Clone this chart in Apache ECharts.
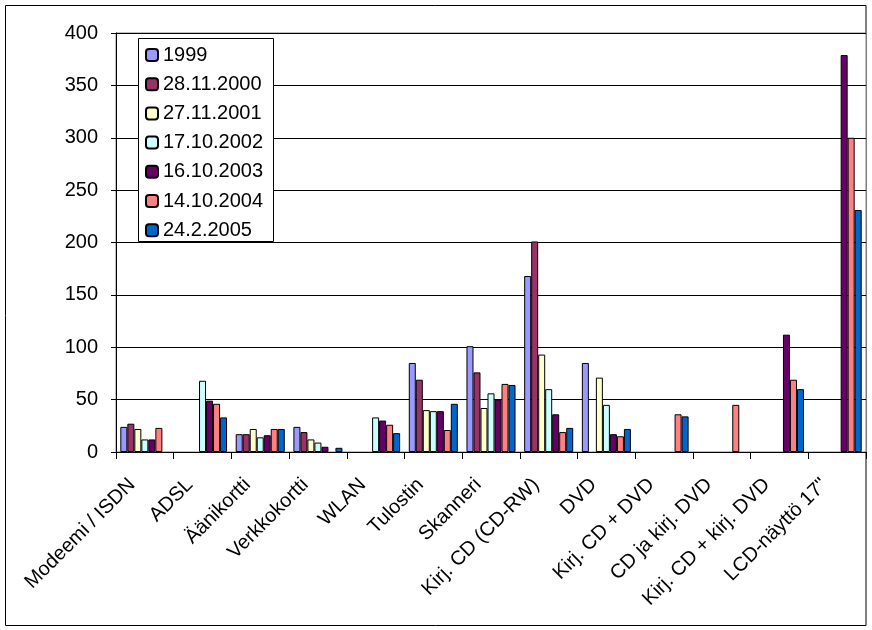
<!DOCTYPE html>
<html>
<head>
<meta charset="utf-8">
<script src="https://cdn.jsdelivr.net/npm/echarts@6/dist/echarts.min.js"></script>
<style>html,body{margin:0;padding:0;background:#fff}#c{width:872px;height:630px}</style>
</head>
<body>
<div id="c"></div>
<script>
var categories = ['Modeemi / ISDN','ADSL','Äänikortti','Verkkokortti','WLAN','Tulostin','Skanneri','Kirj. CD (CD-RW)','DVD','Kirj. CD + DVD','CD ja kirj. DVD','Kirj. CD + kirj. DVD','LCD-näyttö 17"'];
var seriesNames = ['1999','28.11.2000','27.11.2001','17.10.2002','16.10.2003','14.10.2004','24.2.2005'];
var seriesColors = ['#9999FF','#993366','#FFFFCC','#CCFFFF','#660066','#FF8080','#0066CC'];
var v1999 = [24, null, 17, 24, null, 85, 101, 168, 85, null, null, null, null];
var v2000 = [27, null, 17, 19, null, 69, 76, 201, null, null, null, null, null];
var v2001 = [22, null, 22, 12, null, 40, 42, 93, 71, null, null, null, null];
var v2002 = [12, 68, 14, 9, 33, 39, 56, 60, 45, null, null, null, null];
var v2003 = [12, 49, 16, 5, 30, 39, 50, 36, 17, null, null, 112, 379];
var v2004 = [23, 46, 22, null, 26, 21, 65, 19, 15, 36, 45, 69, 300];
var v2005 = [null, 33, 22, 4, 18, 46, 64, 23, 22, 34, null, 60, 231];
var yTicks = [0, 50, 100, 150, 200, 250, 300, 350, 400];

var allValues = [v1999, v2000, v2001, v2002, v2003, v2004, v2005];
var FONT = '"Liberation Sans", Arial, sans-serif';

var series = seriesNames.map(function (n, i) {
  return {
    name: n,
    type: 'bar',
    data: allValues[i],
    barGap: '0%',
    barCategoryGap: '15%',
    itemStyle: { color: seriesColors[i], borderColor: '#000', borderWidth: 1 },
    emphasis: { disabled: true }
  };
});

var chart = echarts.init(document.getElementById('c'), null, { renderer: 'canvas' });
chart.setOption({
  animation: false,
  backgroundColor: '#fff',
  textStyle: { fontFamily: FONT },
  grid: { left: 116, right: 6, top: 33, bottom: 178, show: true, backgroundColor: '#fff', borderColor: '#808080', borderWidth: 1, containLabel: false },
  graphic: [
    { type: 'rect', z: -10, shape: { x: 5.5, y: 5.5, width: 860.5, height: 620 }, style: { fill: null, stroke: '#000', lineWidth: 1 } },
    { type: 'rect', z: 50, shape: { x: 138.5, y: 38.5, width: 135, height: 203 }, style: { fill: '#fff', stroke: '#000', lineWidth: 1 } }
  ],
  legend: {
    z: 60,
    orient: 'vertical',
    left: 145,
    top: 45,
    padding: 0,
    itemWidth: 12,
    itemHeight: 12,
    itemGap: 9.2,
    data: seriesNames,
    textStyle: { fontFamily: FONT, fontSize: 20, lineHeight: 20, color: '#000' }
  },
  xAxis: {
    type: 'category',
    data: categories,
    axisLine: { lineStyle: { color: '#000', width: 1 } },
    axisTick: { show: true, length: 7, lineStyle: { color: '#000' } },
    axisLabel: { rotate: 45, margin: 17, padding: [0, 18, 0, 0], interval: 0, fontFamily: FONT, fontSize: 20, color: '#000' }
  },
  yAxis: {
    type: 'value',
    min: yTicks[0],
    max: yTicks[yTicks.length - 1],
    interval: yTicks[1] - yTicks[0],
    axisLine: { show: true, lineStyle: { color: '#000', width: 1 } },
    axisTick: { show: true, length: 5, lineStyle: { color: '#000' } },
    axisLabel: { margin: 18, fontFamily: FONT, fontSize: 20, color: '#000' },
    splitLine: { show: true, lineStyle: { color: '#000', width: 1 } }
  },
  series: series
});
</script>
</body>
</html>
